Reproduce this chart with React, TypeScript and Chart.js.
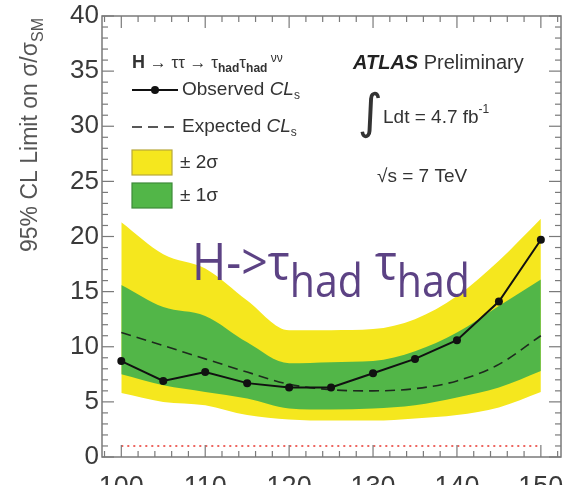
import React, { useEffect, useRef } from "react";
import { Chart, registerables } from "chart.js";

Chart.register(...registerables);

const masses = [100, 105, 110, 115, 120, 125, 130, 135, 140, 145, 150];
const observed = [8.7, 6.9, 7.7, 6.7, 6.3, 6.3, 7.6, 8.9, 10.6, 14.1, 19.7];
const expected = [11.3, 10.1, 8.9, 7.7, 6.6, 6.1, 6.0, 6.2, 6.9, 8.4, 11.0];
const band1Lo = [7.5, 6.5, 5.9, 5.3, 4.4, 4.3, 4.4, 4.7, 5.4, 6.3, 7.8];
const band1Hi = [15.6, 13.6, 12.8, 10.4, 8.5, 8.6, 8.7, 9.6, 11.3, 13.7, 16.1];
const band2Lo = [5.8, 5.0, 4.7, 3.8, 3.4, 3.3, 3.3, 3.5, 3.8, 4.5, 5.9];
const band2Hi = [21.3, 18.4, 17.1, 14.2, 11.5, 11.5, 11.6, 12.5, 14.6, 17.8, 21.6];
const smLevel = 1;
const xTicks = [100, 110, 120, 130, 140, 150];
const yTicks = [0, 5, 10, 15, 20, 25, 30, 35, 40];

const YELLOW = "#f5e71e";
const GREEN = "#52b648";
const PURPLE = "#5c4284";
const TXT = "#333333";

const pts = (ys: number[]) => masses.map((m, i) => ({ x: m, y: ys[i] }));

type Run = { t: string; font: string; dy?: number; color?: string };
function drawRuns(ctx: CanvasRenderingContext2D, x: number, y: number, runs: Run[]) {
  let cx = x;
  for (const r of runs) {
    ctx.font = r.font;
    ctx.fillStyle = r.color || TXT;
    ctx.fillText(r.t, cx, y + (r.dy || 0));
    cx += ctx.measureText(r.t).width;
  }
  return cx;
}
function runsWidth(ctx: CanvasRenderingContext2D, runs: Run[]) {
  let w = 0;
  for (const r of runs) {
    ctx.font = r.font;
    w += ctx.measureText(r.t).width;
  }
  return w;
}

const overlay = {
  id: "overlay",
  afterDraw(chart: any) {
    const ctx: CanvasRenderingContext2D = chart.ctx;
    const { left, right, top, bottom } = chart.chartArea;
    const xs = chart.scales.x;
    const ys = chart.scales.y;
    ctx.save();
    // frame
    ctx.strokeStyle = "#7a7a7a";
    ctx.lineWidth = 1.5;
    ctx.strokeRect(left, top, right - left, bottom - top);
    const line = (x1: number, y1: number, x2: number, y2: number) => {
      ctx.beginPath();
      ctx.moveTo(x1, y1);
      ctx.lineTo(x2, y2);
      ctx.stroke();
    };
    ctx.lineWidth = 1.2;
    for (let v = 98; v <= 152; v += 2) {
      const px = xs.getPixelForValue(v);
      const len = v % 10 === 0 ? 12 : 6;
      line(px, bottom, px, bottom - len);
      line(px, top, px, top + len);
    }
    for (let v = 0; v <= 40; v += 1) {
      const py = ys.getPixelForValue(v);
      const len = v % 5 === 0 ? 12 : 6;
      line(left, py, left + len, py);
      line(right, py, right - len, py);
    }

    // y-axis title
    ctx.save();
    ctx.translate(31, 135);
    ctx.rotate(-Math.PI / 2);
    ctx.textBaseline = "middle";
    const tRuns: Run[] = [
      { t: "95% CL Limit on σ/σ", font: '23px "Liberation Sans", Arial, sans-serif', color: "#555" },
      { t: "SM", font: '16px "Liberation Sans", Arial, sans-serif', dy: 8, color: "#555" },
    ];
    drawRuns(ctx, -runsWidth(ctx, tRuns) / 2, 0, tRuns);
    ctx.restore();

    // legend
    ctx.textBaseline = "middle";
    const F = '"Liberation Sans", Arial, sans-serif';
    drawRuns(ctx, 132, 63, [
      { t: "H", font: `bold 18px ${F}` },
      { t: " → ττ → τ", font: `17px ${F}` },
      { t: "had", font: `bold 12px ${F}`, dy: 6 },
      { t: "τ", font: `17px ${F}` },
      { t: "had", font: `bold 12px ${F}`, dy: 6 },
      { t: " νν", font: `12px ${F}`, dy: -4 },
    ]);
    ctx.strokeStyle = "#111";
    ctx.lineWidth = 2;
    line(132, 90, 178, 90);
    ctx.fillStyle = "#111";
    ctx.beginPath();
    ctx.arc(155, 90, 4, 0, Math.PI * 2);
    ctx.fill();
    drawRuns(ctx, 182, 90, [
      { t: "Observed ", font: `19px ${F}` },
      { t: "CL", font: `italic 19px ${F}` },
      { t: "s", font: `12px ${F}`, dy: 6 },
    ]);
    ctx.lineWidth = 1.6;
    ctx.setLineDash([10, 6]);
    ctx.strokeStyle = "#222";
    line(132, 127, 178, 127);
    ctx.setLineDash([]);
    drawRuns(ctx, 182, 127, [
      { t: "Expected ", font: `19px ${F}` },
      { t: "CL", font: `italic 19px ${F}` },
      { t: "s", font: `12px ${F}`, dy: 6 },
    ]);
    ctx.fillStyle = YELLOW;
    ctx.fillRect(132, 150, 40, 25);
    ctx.strokeStyle = "#b8a83a";
    ctx.lineWidth = 1.2;
    ctx.strokeRect(132, 150, 40, 25);
    drawRuns(ctx, 180, 163, [{ t: "± 2σ", font: `19px ${F}` }]);
    ctx.fillStyle = GREEN;
    ctx.fillRect(132, 183, 40, 25);
    ctx.strokeStyle = "#3e8a3a";
    ctx.strokeRect(132, 183, 40, 25);
    drawRuns(ctx, 180, 196, [{ t: "± 1σ", font: `19px ${F}` }]);

    // ATLAS label
    drawRuns(ctx, 353, 63, [
      { t: "ATLAS", font: `italic bold 20px ${F}`, color: "#222" },
      { t: " Preliminary", font: `20px ${F}` },
    ]);
    ctx.font = '48px "DejaVu Sans", sans-serif';
    ctx.fillStyle = TXT;
    ctx.fillText("∫", 358, 116);
    drawRuns(ctx, 383, 118, [
      { t: "Ldt = 4.7 fb", font: `19px ${F}` },
      { t: "-1", font: `12px ${F}`, dy: -8 },
    ]);
    drawRuns(ctx, 377, 177, [{ t: "√s = 7 TeV", font: `19px ${F}` }]);

    // big overlay text
    ctx.textBaseline = "alphabetic";
    const BF = '"Open Sans", "Noto Sans", sans-serif';
    const big: Run[] = [
      { t: "H->τ", font: `52px ${BF}`, color: PURPLE },
      { t: "had", font: `46px ${BF}`, dy: 17, color: PURPLE },
      { t: " τ", font: `52px ${BF}`, color: PURPLE },
      { t: "had", font: `46px ${BF}`, dy: 17, color: PURPLE },
    ];
    const w = runsWidth(ctx, big);
    ctx.save();
    ctx.translate(192, 280);
    ctx.scale(278 / w, 1);
    drawRuns(ctx, 0, 0, big);
    ctx.restore();

    ctx.restore();
  },
};

export default function App() {
  const ref = useRef<HTMLCanvasElement | null>(null);
  useEffect(() => {
    if (!ref.current) return;
    const chart = new Chart(ref.current, {
      type: "line",
      data: {
        datasets: [
          {
            label: "+2σ",
            data: pts(band2Hi),
            borderWidth: 0,
            pointRadius: 0,
            backgroundColor: YELLOW,
            fill: 1,
            cubicInterpolationMode: "monotone",
            order: 6,
          } as any,
          {
            label: "-2σ",
            data: pts(band2Lo),
            borderWidth: 0,
            pointRadius: 0,
            fill: false,
            cubicInterpolationMode: "monotone",
            order: 6,
          },
          {
            label: "+1σ",
            data: pts(band1Hi),
            borderWidth: 0,
            pointRadius: 0,
            backgroundColor: GREEN,
            fill: 3,
            cubicInterpolationMode: "monotone",
            order: 5,
          },
          {
            label: "-1σ",
            data: pts(band1Lo),
            borderWidth: 0,
            pointRadius: 0,
            fill: false,
            cubicInterpolationMode: "monotone",
            order: 5,
          },
          {
            label: "SM",
            data: [
              { x: masses[0], y: smLevel },
              { x: masses[masses.length - 1], y: smLevel },
            ],
            borderColor: "#e8342c",
            borderWidth: 1.5,
            borderDash: [2, 4],
            pointRadius: 0,
            fill: false,
            order: 3,
          },
          {
            label: "Expected",
            data: pts(expected),
            borderColor: "#1e2a1e",
            borderWidth: 1.6,
            borderDash: [10, 6],
            pointRadius: 0,
            fill: false,
            cubicInterpolationMode: "monotone",
            order: 2,
          },
          {
            label: "Observed",
            data: pts(observed),
            borderColor: "#111",
            backgroundColor: "#111",
            borderWidth: 2,
            pointRadius: 4,
            pointBorderWidth: 0,
            fill: false,
            tension: 0,
            order: 1,
          },
        ],
      },
      options: {
        animation: false,
        responsive: false,
        layout: { padding: { left: 0, right: 3, top: 16, bottom: 0 } },
        plugins: { legend: { display: false }, tooltip: { enabled: false } },
        scales: {
          x: {
            type: "linear",
            min: 97.7,
            max: 152.4,
            grid: { display: false, drawTicks: false },
            border: { display: false },
            afterBuildTicks: (s: any) => {
              s.ticks = xTicks.map((v) => ({ value: v }));
            },
            afterFit: (s: any) => {
              s.height = 48;
              s.paddingLeft = 0;
              s.paddingRight = 0;
            },
            ticks: {
              padding: 14,
              color: "#3a3a3a",
              font: { family: '"Liberation Sans", Arial, sans-serif', size: 27 },
              maxRotation: 0,
              autoSkip: false,
            },
          },
          y: {
            type: "linear",
            min: 0,
            max: 40,
            grid: { display: false, drawTicks: false },
            border: { display: false },
            afterBuildTicks: (s: any) => {
              s.ticks = yTicks.map((v) => ({ value: v }));
            },
            afterFit: (s: any) => {
              s.width = 102;
              s.paddingTop = 0;
              s.paddingBottom = 0;
            },
            ticks: {
              padding: 3,
              color: "#3a3a3a",
              font: { family: '"Liberation Sans", Arial, sans-serif', size: 26 },
            },
          },
        },
      },
      plugins: [overlay],
    });
    return () => chart.destroy();
  }, []);
  return (
    <div
      style={{
        position: "fixed",
        left: 0,
        top: 0,
        width: 565,
        height: 485,
        overflow: "hidden",
        background: "#fff",
      }}
    >
      <canvas ref={ref} width={565} height={505} style={{ display: "block" }} />
    </div>
  );
}
